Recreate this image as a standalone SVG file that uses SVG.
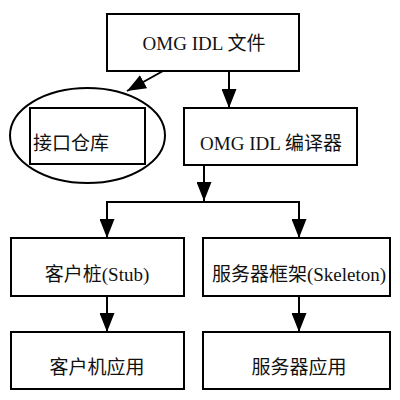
<svg xmlns="http://www.w3.org/2000/svg" width="400" height="400" viewBox="0 0 400 400">
<style>
.box{fill:#fff;stroke:#000;stroke-width:2}
.t{font-family:"Liberation Serif","Noto Sans CJK SC",serif;font-size:19px;fill:#111}
.c{fill:none;stroke:#000;stroke-width:2}
</style>
<defs>
<marker id="ah" markerUnits="userSpaceOnUse" markerWidth="19" markerHeight="15" viewBox="0 0 19 15" refX="19" refY="7.5" orient="auto">
<path d="M0,0 L19,7.5 L0,15 Z" fill="#000"/>
</marker>
</defs>
<rect width="400" height="400" fill="#fff"/>
<g id="connectors">
<line class="c" x1="163" y1="71" x2="127" y2="91" marker-end="url(#ah)"/>
<line class="c" x1="229" y1="71" x2="229" y2="108" marker-end="url(#ah)"/>
<line class="c" x1="204" y1="165" x2="204" y2="201" marker-end="url(#ah)"/>
<polyline class="c" points="107,238 107,202 299,202 299,238" marker-end="url(#ah)"/>
<line class="c" x1="107" y1="202" x2="107" y2="238" marker-end="url(#ah)"/>
<line class="c" x1="107" y1="296" x2="107" y2="332" marker-end="url(#ah)"/>
<line class="c" x1="299" y1="296" x2="299" y2="332" marker-end="url(#ah)"/>
</g>
<g id="idl-file">
<rect class="box" x="107" y="14" width="192" height="57"/>
<text class="t" x="204" y="50" text-anchor="middle">OMG IDL 文件</text>
</g>
<g id="repository">
<ellipse cx="87.5" cy="135.5" rx="77.5" ry="47.5" fill="#fff" stroke="#000" stroke-width="2"/>
<rect class="box" x="30" y="108" width="115" height="56"/>
<text class="t" x="33" y="150">接口仓库</text>
</g>
<g id="compiler">
<rect class="box" x="184" y="108" width="173" height="57"/>
<text class="t" x="271" y="150" text-anchor="middle">OMG IDL 编译器</text>
</g>
<g id="stub">
<rect class="box" x="11" y="238" width="173" height="58"/>
<text class="t" x="97" y="281" text-anchor="middle">客户桩(Stub)</text>
</g>
<g id="skeleton">
<rect class="box" x="203" y="238" width="187" height="58"/>
<text class="t" x="299" y="281" text-anchor="middle">服务器框架(Skeleton)</text>
</g>
<g id="client-app">
<rect class="box" x="11" y="332" width="173" height="57"/>
<text class="t" x="97" y="374" text-anchor="middle">客户机应用</text>
</g>
<g id="server-app">
<rect class="box" x="203" y="332" width="187" height="57"/>
<text class="t" x="299" y="374" text-anchor="middle">服务器应用</text>
</g>
</svg>
